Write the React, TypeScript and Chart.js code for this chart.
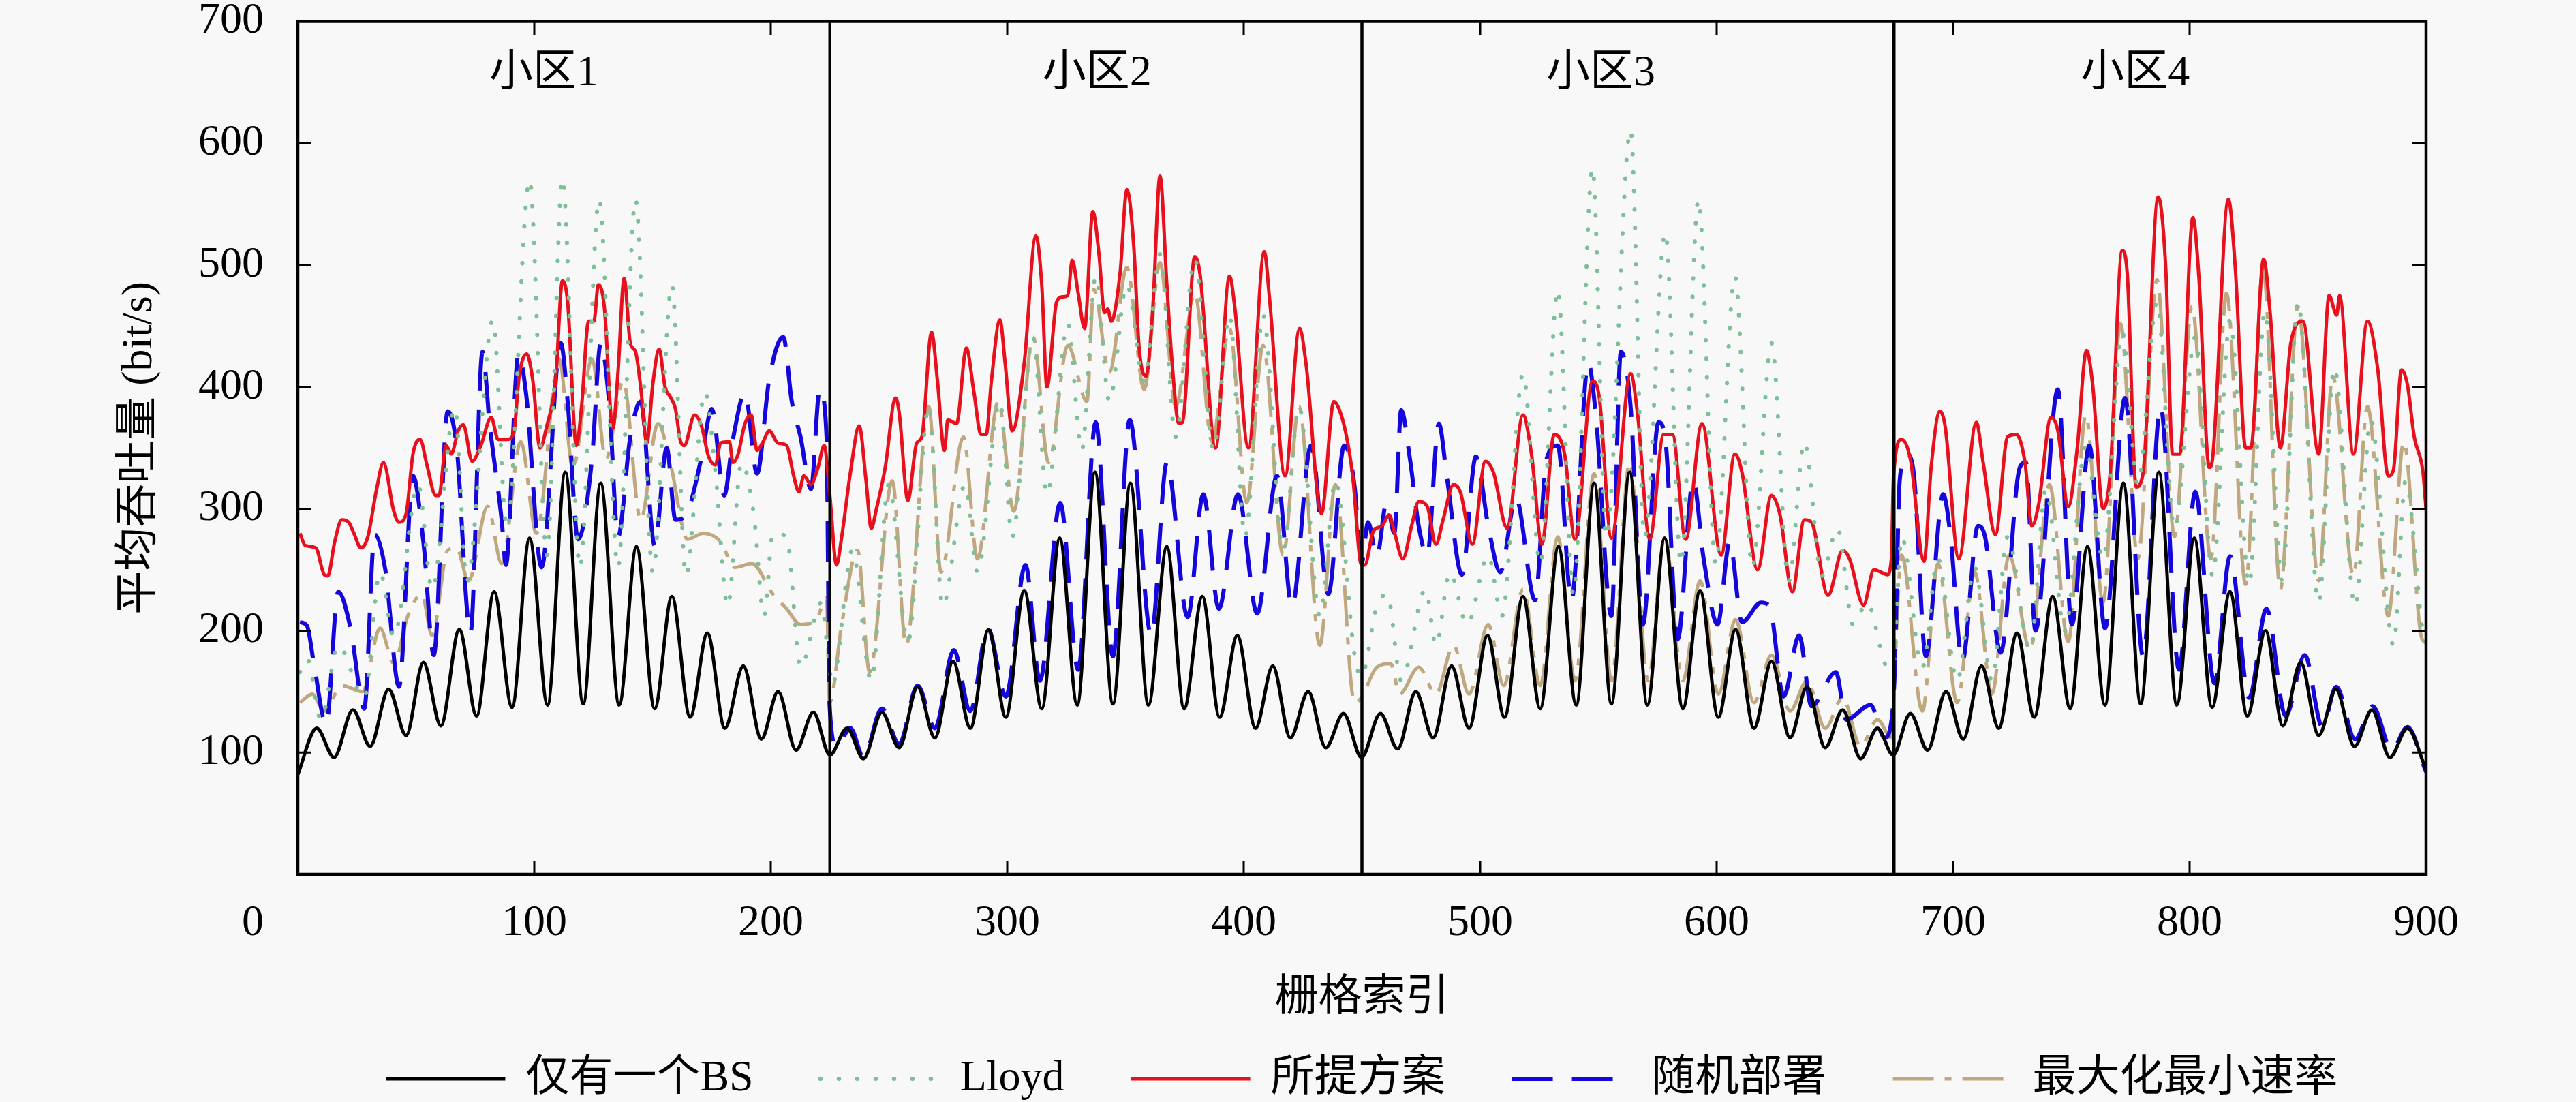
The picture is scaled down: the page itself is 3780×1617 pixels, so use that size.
import { useEffect, useRef } from "react";
import { Chart, ChartConfiguration, Plugin, registerables } from "chart.js";

Chart.register(...registerables);

const FONT = "'Liberation Serif', 'Noto Sans CJK SC', serif";

// cell boundaries and labels
const cellBounds = [225, 450, 675];
const cellNames = ["小区1", "小区2", "小区3", "小区4"];
const cellLabelX = [104, 338, 551, 777];
const cellLabelY = 657;

const xTickValues = [0, 100, 200, 300, 400, 500, 600, 700, 800, 900];
const yTickValues = [0, 100, 200, 300, 400, 500, 600, 700];

// 仅有一个BS
const singleBS: [number, number][] = [
  [0, 82], [8, 120], [15.3, 96], [23.3, 135], [30.6, 105], [38.4, 152], [45.8, 114], [53.1, 174],
  [60.5, 122], [68.3, 201], [75.6, 130], [83, 232], [90.6, 137], [98, 276], [105.6, 139], [113.1, 330],
  [120.7, 140], [128.1, 321], [135.9, 139], [143.2, 269], [150.9, 136], [158.2, 228], [165.9, 129],
  [173.2, 198], [180.6, 120], [188.4, 171], [196, 111], [203.1, 150], [210.7, 102], [218, 133], [225, 98],
  [232.3, 120], [239.2, 95], [247, 133], [254.3, 104], [262.1, 154], [269.4, 112], [277.1, 175],
  [284.4, 120], [292.1, 201], [299.4, 129], [307.2, 233], [314.6, 136], [322.2, 276], [329.6, 139],
  [337.1, 330], [344.7, 140], [352.1, 321], [359.7, 139], [367.5, 269], [374.8, 136], [382.5, 228],
  [389.8, 129], [397.3, 196], [405, 120], [412.3, 171], [419.7, 112], [427.3, 150], [434.7, 104],
  [442.2, 132], [449.8, 96], [457.8, 132], [465.1, 103], [472.8, 150], [480.1, 112], [487.9, 171],
  [495.3, 120], [503.1, 196], [510.3, 129], [518.1, 228], [525.4, 136], [533.1, 269], [540.6, 139],
  [548.2, 321], [555.5, 140], [563.2, 330], [570.7, 139], [578, 276], [585.7, 136], [593, 233],
  [600.7, 129], [608, 201], [615.8, 120], [623.2, 175], [631, 112], [638.2, 154], [645.9, 104],
  [653.3, 135], [660.9, 95], [668, 120], [674.6, 98], [681.9, 132], [689.2, 102], [697, 150],
  [704.3, 111], [712, 171], [719.3, 120], [727, 198], [734.3, 129], [742.1, 228], [749.5, 136],
  [756.8, 269], [764.2, 139], [772, 321], [779.3, 140], [787, 330], [794.6, 139], [802, 276],
  [809.5, 137], [817.1, 232], [824.4, 130], [832.1, 200], [839.4, 122], [847, 174], [854.6, 114],
  [861.9, 152], [869.7, 105], [877.1, 135], [884.7, 96], [892.1, 120], [900, 86],
];

// Lloyd
const lloyd: [number, number][] = [
  [0.9, 166], [3.9, 177], [9.8, 127], [17.1, 188], [28.1, 145], [34.8, 248], [40.6, 195], [50.9, 320],
  [56.8, 234], [66.4, 383], [71.5, 241], [82.5, 455], [88.4, 284], [98, 570], [105.3, 262], [111.9, 571],
  [119.3, 252], [127.4, 554], [135.4, 252], [142.8, 554], [150.1, 248], [158.2, 484], [164.1, 245],
  [172.2, 396], [176.6, 330], [181.8, 220], [187.6, 338], [192.8, 296], [197.2, 212], [200.9, 280],
  [206.7, 277], [212.6, 170], [221.4, 223], [224.4, 177],
  [226, 155], [234.5, 266], [242.5, 159], [249.9, 320], [258, 191], [266.8, 384], [272.7, 220],
  [282.2, 320], [287.4, 248], [296.9, 388], [302.1, 277], [310.9, 441], [316.8, 312], [325.6, 452],
  [331.5, 348], [337.4, 491], [343.2, 388], [350.6, 484], [357.9, 405], [364.6, 509], [371.2, 359],
  [379.3, 505], [387.3, 348], [394, 459], [400.6, 277], [408.2, 459], [416.7, 266], [423.4, 384],
  [432.2, 212], [438.8, 323], [446.9, 180],
  [449.7, 162], [456.3, 220], [460.7, 230], [466.6, 159], [476.9, 234], [481.3, 188], [487.2, 248],
  [494.5, 205], [503.4, 262], [509.2, 212], [518.1, 411], [525.4, 255], [532.8, 480], [539.4, 230],
  [547.5, 580], [553.3, 277], [563.6, 611], [569.5, 277], [578.3, 527], [584.9, 255], [592.3, 554],
  [599.6, 255], [607.7, 491], [615.1, 252], [623.2, 436], [630.5, 241], [637.1, 355], [644.5, 245],
  [651.1, 284], [657.7, 205], [663.6, 223], [672.4, 170],
  [674.5, 170], [678.2, 277], [687, 170], [693.6, 259], [701.7, 159], [709.1, 252], [716.4, 159],
  [723, 277], [732.6, 184], [739.2, 316], [747.3, 200], [756.1, 352], [763.4, 259], [771.5, 445],
  [778.1, 320], [786.2, 470], [793.6, 284], [802.4, 441], [809.7, 245], [817.1, 455], [825.2, 238],
  [831.8, 462], [839.1, 241], [845.8, 470], [854.6, 223], [861.2, 416], [870, 220], [876.6, 373],
  [886.2, 188], [891.3, 323], [898.7, 198], [900, 190],
];

// 所提方案
const proposed: [number, number][] = [
  [0.9, 280], [3.1, 270], [7.6, 268], [11.2, 246], [12.7, 245], [15.6, 273], [18.6, 291], [21.5, 289],
  [23.7, 280], [26.7, 268], [29.6, 277], [33.3, 316], [36.2, 338], [40.6, 298], [42.8, 289], [45.8, 296],
  [48.7, 345], [51.7, 357], [54.6, 336], [58.3, 311], [59.7, 311], [62.7, 352], [64.9, 345], [67.8, 364],
  [70, 369], [73.7, 339], [77.4, 352], [81.8, 375], [84.7, 357], [88.4, 357], [91.3, 362], [93.6, 409],
  [96.8, 427], [99.4, 405], [102.4, 350], [105.3, 368], [109, 405], [111.9, 487], [114.1, 470],
  [117.8, 352], [120, 384], [123, 454], [125.2, 454], [127.1, 484], [129.6, 466], [133.2, 366],
  [135.4, 412], [138, 489], [140.6, 436], [142.8, 429], [145, 400], [147.6, 354], [150.1, 402],
  [152.8, 431], [155.3, 400], [157.5, 392], [159.7, 382], [161.9, 355], [163.4, 352], [167.8, 377],
  [170.7, 368], [173.7, 343], [176.6, 336], [178.8, 354], [182.5, 355], [184, 338], [186.2, 345],
  [189.1, 370], [191.7, 377], [194.2, 348], [196.5, 354], [199.4, 364], [203, 354], [206.7, 352],
  [209.7, 327], [211.9, 314], [214, 327], [217, 320], [220, 334], [222.6, 352],
  [224.9, 313], [227.8, 254], [230, 277], [233.7, 330], [237.4, 368], [240.3, 323], [242.5, 284],
  [244.7, 300], [248.4, 334], [252.8, 391], [254.3, 379], [258, 307], [261.7, 354], [263.9, 359],
  [268, 445], [270.5, 405], [273.4, 348], [274.9, 373], [278.6, 370], [282.7, 432], [285.9, 396],
  [288.9, 361], [291.1, 361], [293.3, 405], [296.9, 455], [299.1, 420], [302.1, 364], [307.2, 420],
  [312.1, 524], [314.6, 484], [316.8, 400], [320.9, 470], [323.4, 474], [325.6, 475], [327.5, 504],
  [330, 477], [332.7, 448], [336.2, 544], [338.8, 509], [341.1, 461], [342.5, 464], [344, 454],
  [347.7, 493], [350.6, 562], [353.5, 516], [355.7, 434], [358.7, 409], [361.6, 466], [364.6, 573],
  [367.5, 484], [369.7, 420], [372.6, 370], [374.1, 371], [379.3, 507], [381.5, 493], [388.1, 350],
  [394, 491], [396.2, 466], [402, 350], [408.7, 511], [410.9, 473], [417.5, 327], [423.6, 448],
  [426.3, 420], [432.9, 296], [438.1, 388], [440.3, 382], [443.2, 362], [446.1, 327], [449.8, 254],
  [451.2, 254], [454.9, 282], [458.5, 286], [461.5, 295], [463.7, 281], [467.3, 259], [471, 286],
  [474, 306], [477.6, 302], [481.3, 271], [484.3, 291], [488.7, 320], [491.6, 314], [496.7, 271],
  [502.2, 339], [505.6, 330], [511.4, 284], [518.1, 377], [521.7, 345], [526.1, 271], [531.3, 361],
  [535.7, 345], [540.1, 275], [547.5, 405], [550.4, 391], [555.5, 276], [563.6, 411], [566.6, 377],
  [571.7, 275], [577.6, 361], [581.3, 361], [586.9, 275], [593.8, 370], [601.9, 262], [607.7, 345],
  [610.7, 330], [617.3, 250], [623.2, 311], [626.8, 295], [632, 232], [637.1, 291], [640.1, 289],
  [647.1, 229], [653.3, 266], [656.2, 259], [662.1, 221], [666.5, 250], [669.5, 248], [672.1, 246],
  [673.9, 259],
  [674.8, 327], [678.2, 357], [681.9, 341], [687.7, 257], [690.7, 334], [694.4, 380], [696.6, 368],
  [702.4, 259], [709.8, 371], [712.7, 338], [717.9, 279], [723, 359], [726.7, 361], [730.4, 338],
  [733.3, 286], [736.2, 304], [741.4, 375], [744.3, 364], [748.7, 302], [752.4, 348], [756.4, 430],
  [759, 402], [763.4, 300], [766.4, 329], [771.5, 512], [773.7, 491], [777.4, 318], [780.3, 329],
  [786.7, 556], [789.9, 498], [792.8, 345], [795.8, 345], [801.4, 539], [803.9, 491], [808.3, 334],
  [809.7, 341], [816.4, 554], [819.3, 498], [823.7, 350], [825.9, 350], [831.3, 505], [834, 462],
  [838.4, 350], [842.8, 436], [847.9, 454], [854.6, 345], [859, 475], [862.2, 459], [863.4, 475],
  [869.3, 345], [875.2, 454], [879.6, 414], [884, 327], [886.2, 332], [889.6, 414], [892.1, 402],
  [895, 359], [898.7, 330], [900, 300],
];

// 随机部署
const randomDeploy: [number, number][] = [
  [0.9, 207], [3.9, 204], [6.8, 173], [12, 123], [17.1, 232], [22.3, 202], [28.1, 136], [32.5, 279],
  [37, 250], [42.8, 154], [48.7, 327], [53.1, 273], [57.5, 180], [63.4, 380], [67.1, 352], [73, 198],
  [78.1, 429], [81.1, 370], [86.2, 291], [88, 254], [93.3, 427], [96.5, 395], [103.1, 252], [111.2, 436],
  [114.1, 388], [118.5, 275], [124.4, 341], [128.1, 436], [131.8, 384], [135.4, 277], [140.6, 359],
  [145, 388], [150.9, 270], [156, 350], [159.7, 291], [164.1, 295], [170.7, 342], [175.1, 382],
  [180.3, 311], [184, 357], [189.1, 395], [194.2, 329], [199.4, 407], [205.3, 441], [208.9, 388],
  [212.6, 359], [217, 316], [220.7, 398], [223.6, 359],
  [224.9, 138], [227.8, 105], [233.7, 120], [239.2, 96], [247, 136], [254.3, 107], [262.1, 155],
  [269.4, 120], [277.4, 184], [284.4, 134], [291.8, 202], [299.4, 146], [307.7, 254], [313.8, 159],
  [322.4, 305], [330, 168], [337.4, 371], [344.7, 179], [351.8, 373], [360.9, 196], [367.5, 338],
  [376.3, 211], [382.9, 312], [389.5, 218], [397.6, 312], [405.7, 214], [414.1, 327], [420.4, 220],
  [428.5, 352], [435.8, 230], [442.5, 352], [446.9, 318], [449, 266],
  [449.8, 255], [452.6, 289], [456.3, 261], [460.4, 305], [463.7, 280], [466.6, 381], [470.3, 341],
  [474, 286], [477.6, 262], [482.5, 370], [486, 325], [492.3, 246], [498.2, 343], [503.4, 286],
  [508.5, 248], [515.1, 309], [523.2, 225], [528.1, 341], [532.8, 352], [538.6, 225], [545.7, 420],
  [548.9, 377], [555.5, 212], [559.5, 429], [563.6, 384], [568.8, 205], [575.4, 371], [578.3, 357],
  [583.5, 193], [590.1, 323], [594.5, 259], [600.4, 205], [605.5, 273], [610.7, 207], [618.8, 223],
  [622.4, 220], [628.3, 146], [634.9, 196], [640.1, 138], [650.4, 166], [654.8, 127], [665.1, 139],
  [671, 112], [674, 127],
  [675.2, 162], [677.4, 323], [680.4, 345], [683.3, 330], [688.5, 179], [695.8, 312], [698.8, 279],
  [703.9, 175], [710.5, 286], [713.5, 277], [720.1, 182], [728.2, 334], [730.8, 338], [734.8, 200],
  [744.3, 398], [750.2, 205], [757.6, 352], [764.2, 202], [772.7, 391], [780.3, 179], [787.7, 384],
  [795.5, 168], [802.4, 314], [810.5, 157], [817.1, 261], [825.2, 145], [832.5, 218], [840.6, 130],
  [848.7, 180], [856.1, 121], [862, 154], [870, 111], [877.4, 138], [885.5, 102], [892.1, 121],
  [900, 84],
];

// 最大化最小速率
const maxMinRate: [number, number][] = [
  [0.9, 141], [6.1, 148], [11.2, 134], [18.6, 155], [27.4, 150], [34.8, 202], [40.6, 173], [46.5, 212],
  [52.4, 230], [56.8, 196], [63.4, 266], [67.1, 268], [72.2, 241], [80.3, 302], [86.2, 255], [94.3, 355],
  [100.9, 280], [110.5, 423], [116.3, 334], [124.4, 423], [130.3, 341], [137.6, 405], [145, 291],
  [152.3, 370], [157.5, 338], [164.8, 275], [171.5, 280], [178.8, 273], [184.7, 252], [192, 255],
  [200.9, 230], [206.7, 218], [212.6, 205], [219.2, 209], [223.6, 227],
  [224.9, 141], [230, 205], [236.7, 266], [241.8, 166], [251.4, 323], [257.2, 188], [266.8, 384],
  [272, 248], [281.5, 359], [287.4, 259], [296.2, 388], [302.8, 298], [310.9, 441], [317.5, 338],
  [325.6, 434], [333.7, 388], [336.6, 480], [343.2, 412], [350.6, 498], [357.9, 398], [364.6, 502],
  [371.2, 384], [379.3, 477], [386.6, 355], [394, 448], [401.3, 305], [408.2, 434], [416.7, 262],
  [423.4, 384], [432.2, 188], [438.8, 320], [446.9, 141],
  [449.7, 145], [456.3, 170], [462.2, 173], [465.9, 148], [474, 170], [481.3, 148], [488.7, 188],
  [495.3, 148], [503.4, 205], [510, 155], [518.1, 234], [525.4, 155], [532.8, 277], [540.1, 159],
  [548.2, 329], [555.5, 159], [563.2, 338], [571, 159], [578, 277], [585.7, 159], [593, 241],
  [600.7, 148], [608, 209], [615.8, 141], [623.2, 180], [631, 134], [638.2, 159], [645.9, 120],
  [653.3, 145], [660.9, 105], [668, 127], [674, 112],
  [674.6, 134], [678.2, 262], [687, 134], [693.6, 255], [701.7, 141], [709.1, 248], [716.4, 148],
  [723.7, 262], [732.6, 184], [740.7, 320], [748.7, 191], [756.1, 377], [763.4, 223], [770.8, 452],
  [778.1, 259], [786.2, 488], [793.6, 277], [801, 466], [809, 259], [815.6, 477], [823.7, 238],
  [831.1, 498], [838.4, 234], [845.8, 466], [854.6, 241], [860.5, 409], [869.3, 245], [875.2, 384],
  [884, 212], [890.6, 355], [898, 195], [900, 190],
];

const toXY = (pts: [number, number][]) => pts.map(([x, y]) => ({ x, y }));

// frame, inward ticks, cell separators/labels and bottom legend
const framePlugin: Plugin<"line"> = {
  id: "frame",
  afterDatasetsDraw(chart) {
    const { ctx, chartArea: a, scales } = chart;
    const xs = scales.x;
    const ys = scales.y;
    ctx.save();
    ctx.strokeStyle = "#000";
    ctx.fillStyle = "#000";
    ctx.setLineDash([]);

    ctx.lineWidth = 4.5;
    cellBounds.forEach((v) => {
      const px = xs.getPixelForValue(v);
      ctx.beginPath();
      ctx.moveTo(px, a.top);
      ctx.lineTo(px, a.bottom);
      ctx.stroke();
    });
    ctx.strokeRect(a.left, a.top, a.right - a.left, a.bottom - a.top);

    ctx.lineWidth = 3;
    ctx.beginPath();
    xTickValues.slice(1, -1).forEach((v) => {
      const px = xs.getPixelForValue(v);
      ctx.moveTo(px, a.bottom);
      ctx.lineTo(px, a.bottom - 20);
      ctx.moveTo(px, a.top);
      ctx.lineTo(px, a.top + 20);
    });
    yTickValues.slice(1, -1).forEach((v) => {
      const py = ys.getPixelForValue(v);
      ctx.moveTo(a.left, py);
      ctx.lineTo(a.left + 20, py);
      ctx.moveTo(a.right, py);
      ctx.lineTo(a.right - 20, py);
    });
    ctx.stroke();

    ctx.font = `64px ${FONT}`;
    ctx.textBaseline = "middle";
    ctx.textAlign = "center";
    cellNames.forEach((n, i) => {
      ctx.fillText(n, xs.getPixelForValue(cellLabelX[i]), ys.getPixelForValue(cellLabelY));
    });

    // lone origin label sits under the y labels
    ctx.textAlign = "right";
    ctx.fillText("0", a.left - 50, a.bottom + 72);

    // legend
    const lineLen = 175;
    const textGap = 30;
    const itemGap = 98;
    ctx.textAlign = "left";
    const items = chart.data.datasets.map((d) => ({
      d,
      w: ctx.measureText(String(d.label)).width,
    }));
    const total =
      items.reduce((s, it) => s + lineLen + textGap + it.w, 0) + itemGap * (items.length - 1);
    let x = (a.left + a.right) / 2 - total / 2;
    const y = a.bottom + 300;
    items.forEach(({ d, w }) => {
      const ds = d as any;
      ctx.save();
      ctx.strokeStyle = ds.borderColor;
      ctx.lineWidth = ds.borderWidth;
      ctx.lineCap = ds.borderCapStyle || "butt";
      ctx.setLineDash(ds.borderDash || []);
      ctx.beginPath();
      ctx.moveTo(x, y);
      ctx.lineTo(x + lineLen, y);
      ctx.stroke();
      ctx.restore();
      ctx.fillText(String(d.label), x + lineLen + textGap, y);
      x += lineLen + textGap + w + itemGap;
    });
    ctx.restore();
  },
};

const tickFont = { family: FONT, size: 64 };

const config: ChartConfiguration<"line"> = {
  type: "line",
  data: {
    datasets: [
      {
        label: "仅有一个BS",
        data: toXY(singleBS),
        borderColor: "#000000",
        borderWidth: 5,
        cubicInterpolationMode: "monotone",
      },
      {
        label: "Lloyd",
        data: toXY(lloyd),
        borderColor: "#7cbf98",
        borderWidth: 6,
        borderDash: [0.5, 26.5],
        borderCapStyle: "round",
        cubicInterpolationMode: "monotone",
      },
      {
        label: "所提方案",
        data: toXY(proposed),
        borderColor: "#e8101c",
        borderWidth: 5,
        cubicInterpolationMode: "monotone",
      },
      {
        label: "随机部署",
        data: toXY(randomDeploy),
        borderColor: "#1406dc",
        borderWidth: 6,
        borderDash: [60, 28],
        cubicInterpolationMode: "monotone",
      },
      {
        label: "最大化最小速率",
        data: toXY(maxMinRate),
        borderColor: "#bfa77f",
        borderWidth: 5,
        borderDash: [60, 16, 10, 16],
        cubicInterpolationMode: "monotone",
      },
    ],
  },
  options: {
    animation: false,
    responsive: true,
    maintainAspectRatio: false,
    layout: { padding: { left: 0, right: 220, top: 31.5, bottom: 113.6 } },
    elements: { point: { radius: 0 } },
    plugins: {
      legend: { display: false },
      tooltip: { enabled: false },
    },
    scales: {
      x: {
        type: "linear",
        min: 0,
        max: 900,
        grid: { display: false, drawTicks: false },
        border: { display: false },
        ticks: {
          stepSize: 100,
          padding: 34,
          color: "#000",
          font: tickFont,
          maxRotation: 0,
          autoSkip: false,
          callback: (v) => (Number(v) === 0 ? "" : String(v)),
        },
        title: {
          display: true,
          text: "栅格索引",
          color: "#000",
          font: tickFont,
          padding: { top: 0, bottom: 0 },
        },
        afterFit: (s) => {
          s.height = 220.4;
          s.paddingLeft = 0;
          s.paddingRight = 0;
        },
      },
      y: {
        min: 0,
        max: 700,
        grid: { display: false, drawTicks: false },
        border: { display: false },
        ticks: {
          stepSize: 100,
          padding: 50,
          color: "#000",
          font: tickFont,
          callback: (v) => (Number(v) === 0 ? "" : String(v)),
        },
        title: {
          display: true,
          text: "平均吞吐量 (bit/s)",
          color: "#000",
          font: tickFont,
          padding: { top: 167, bottom: 0 },
        },
        afterFit: (s) => {
          s.width = 437;
          s.paddingTop = 0;
          s.paddingBottom = 0;
        },
      },
    },
  },
  plugins: [framePlugin],
};

function ThroughputChart() {
  const canvasRef = useRef<HTMLCanvasElement | null>(null);

  useEffect(() => {
    let chart: Chart<"line"> | null = null;
    if (canvasRef.current) {
      chart = new Chart(canvasRef.current, config);
    }
    return () => {
      if (chart) chart.destroy();
    };
  }, []);

  return (
    <div
      style={{
        position: "fixed",
        left: 0,
        top: 0,
        width: 3780,
        height: 1617,
        background: "#f8f8f8",
      }}
    >
      <canvas ref={canvasRef} />
    </div>
  );
}

export default function App() {
  return <ThroughputChart />;
}
